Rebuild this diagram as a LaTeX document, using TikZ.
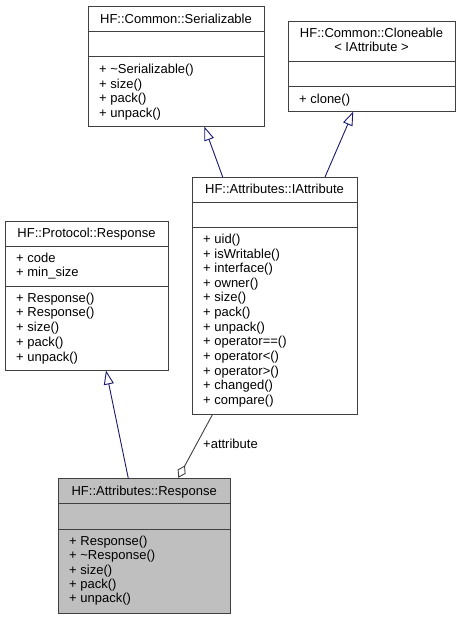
\documentclass[tikz,border=0pt]{standalone}
\usepackage{fontspec}
\setmainfont{Liberation Sans}
\usetikzlibrary{arrows.meta}
\definecolor{boxline}{HTML}{404040}
\definecolor{inhcol}{HTML}{191970}
\definecolor{aggcol}{HTML}{404040}
\definecolor{curfill}{HTML}{BFBFBF}
\tikzset{
  classbox/.style={draw=boxline, line width=1pt, rectangle, inner sep=0pt, anchor=north west},
  sepline/.style={draw=boxline, line width=1pt},
  txt/.style={inner sep=0pt, font=\fontsize{13}{14.6}\selectfont},
  inherit/.style={draw=inhcol, line width=0.9pt, -{Triangle[open, length=14pt, width=10pt]}},
  aggreg/.style={draw=aggcol, line width=0.9pt, -{Diamond[open, length=14pt, width=9pt]}},
}
\newcommand\classbox[9]{%
  % #1 name, #2 L, #3 R, #4 T, #5 B, #6 s1, #7 s2, #8 fill, #9 unused
  \node[classbox, fill=#8, minimum width=#3-#2, minimum height=#5-#4] (#1) at (#2,#4) {};
  \draw[sepline] (#2,#6) -- (#3,#6);
  \draw[sepline] (#2,#7) -- (#3,#7);
}
\begin{document}
\begin{tikzpicture}[x=1pt,y=-1pt]
\useasboundingbox (0,0) rectangle (461,619);

% HF::Common::Serializable
\classbox{ser}{88}{264}{6}{126}{31}{56}{white}{}
\node[txt, anchor=base] (ser-t) at (176,23) {HF::Common::Serializable};
\foreach \t [count=\i from 0] in {+ \textasciitilde Serializable(),+ size(),+ pack(),+ unpack()}
  \node[txt, anchor=base west] (ser-m\i) at (99,73.5+\i*14.6) {\t};

% HF::Common::Cloneable< IAttribute >
\classbox{clo}{288}{455}{21}{111}{61}{86}{white}{}
\node[txt, anchor=base] (clo-t1) at (371.5,37) {HF::Common::Cloneable};
\node[txt, anchor=base] (clo-t2) at (371.5,51.5) {< IAttribute >};
\node[txt, anchor=base west] (clo-m0) at (299,103) {+ clone()};

% HF::Attributes::IAttribute
\classbox{iat}{192}{357}{177}{414}{202}{227}{white}{}
\node[txt, anchor=base] (iat-t) at (274.5,193.5) {HF::Attributes::IAttribute};
\foreach \t [count=\i from 0] in {+ uid(),+ isWritable(),+ interface(),+ owner(),+ size(),+ pack(),+ unpack(),+ operator==(),+ operator<(),+ operator>(),+ changed(),+ compare()}
  \node[txt, anchor=base west] (iat-m\i) at (203,243.5+\i*14.62) {\t};

% HF::Protocol::Response
\classbox{pro}{5}{168}{221}{370}{246}{286}{white}{}
\node[txt, anchor=base] (pro-t) at (86.5,237.5) {HF::Protocol::Response};
\node[txt, anchor=base west] (pro-a0) at (16,262.3) {+ code};
\node[txt, anchor=base west] (pro-a1) at (16,276.9) {+ min\_size};
\foreach \t [count=\i from 0] in {+ Response(),+ Response(),+ size(),+ pack(),+ unpack()}
  \node[txt, anchor=base west] (pro-m\i) at (16,302.2+\i*14.7) {\t};

% HF::Attributes::Response
\classbox{ares}{58.3}{230}{478.3}{612.7}{503.3}{529.3}{curfill}{}
\node[txt, anchor=base] (ares-t) at (144.2,495) {HF::Attributes::Response};
\foreach \t [count=\i from 0] in {+ Response(),+ \textasciitilde Response(),+ size(),+ pack(),+ unpack()}
  \node[txt, anchor=base west] (ares-m\i) at (69,545.5+\i*14.3) {\t};

% connectors
\coordinate (iat-in1) at (222.7,177);
\coordinate (ser-tip) at (204.3,126.5);
\coordinate (iat-in2) at (325,177);
\coordinate (clo-tip) at (353.3,111.5);
\coordinate (ares-in) at (128.3,478.3);
\coordinate (pro-tip) at (106,370.5);
\coordinate (iat-out) at (212.5,414.5);
\coordinate (ares-dia) at (178.3,477.8);

\draw[inherit] (iat-in1) -- (ser-tip);
\draw[inherit] (iat-in2) -- (clo-tip);
\draw[inherit] (ares-in) -- (pro-tip);
\draw[aggreg] (iat-out) -- (ares-dia);
\node[txt, anchor=base west] (lbl) at (203,448.5) {+attribute};
\end{tikzpicture}
\end{document}
